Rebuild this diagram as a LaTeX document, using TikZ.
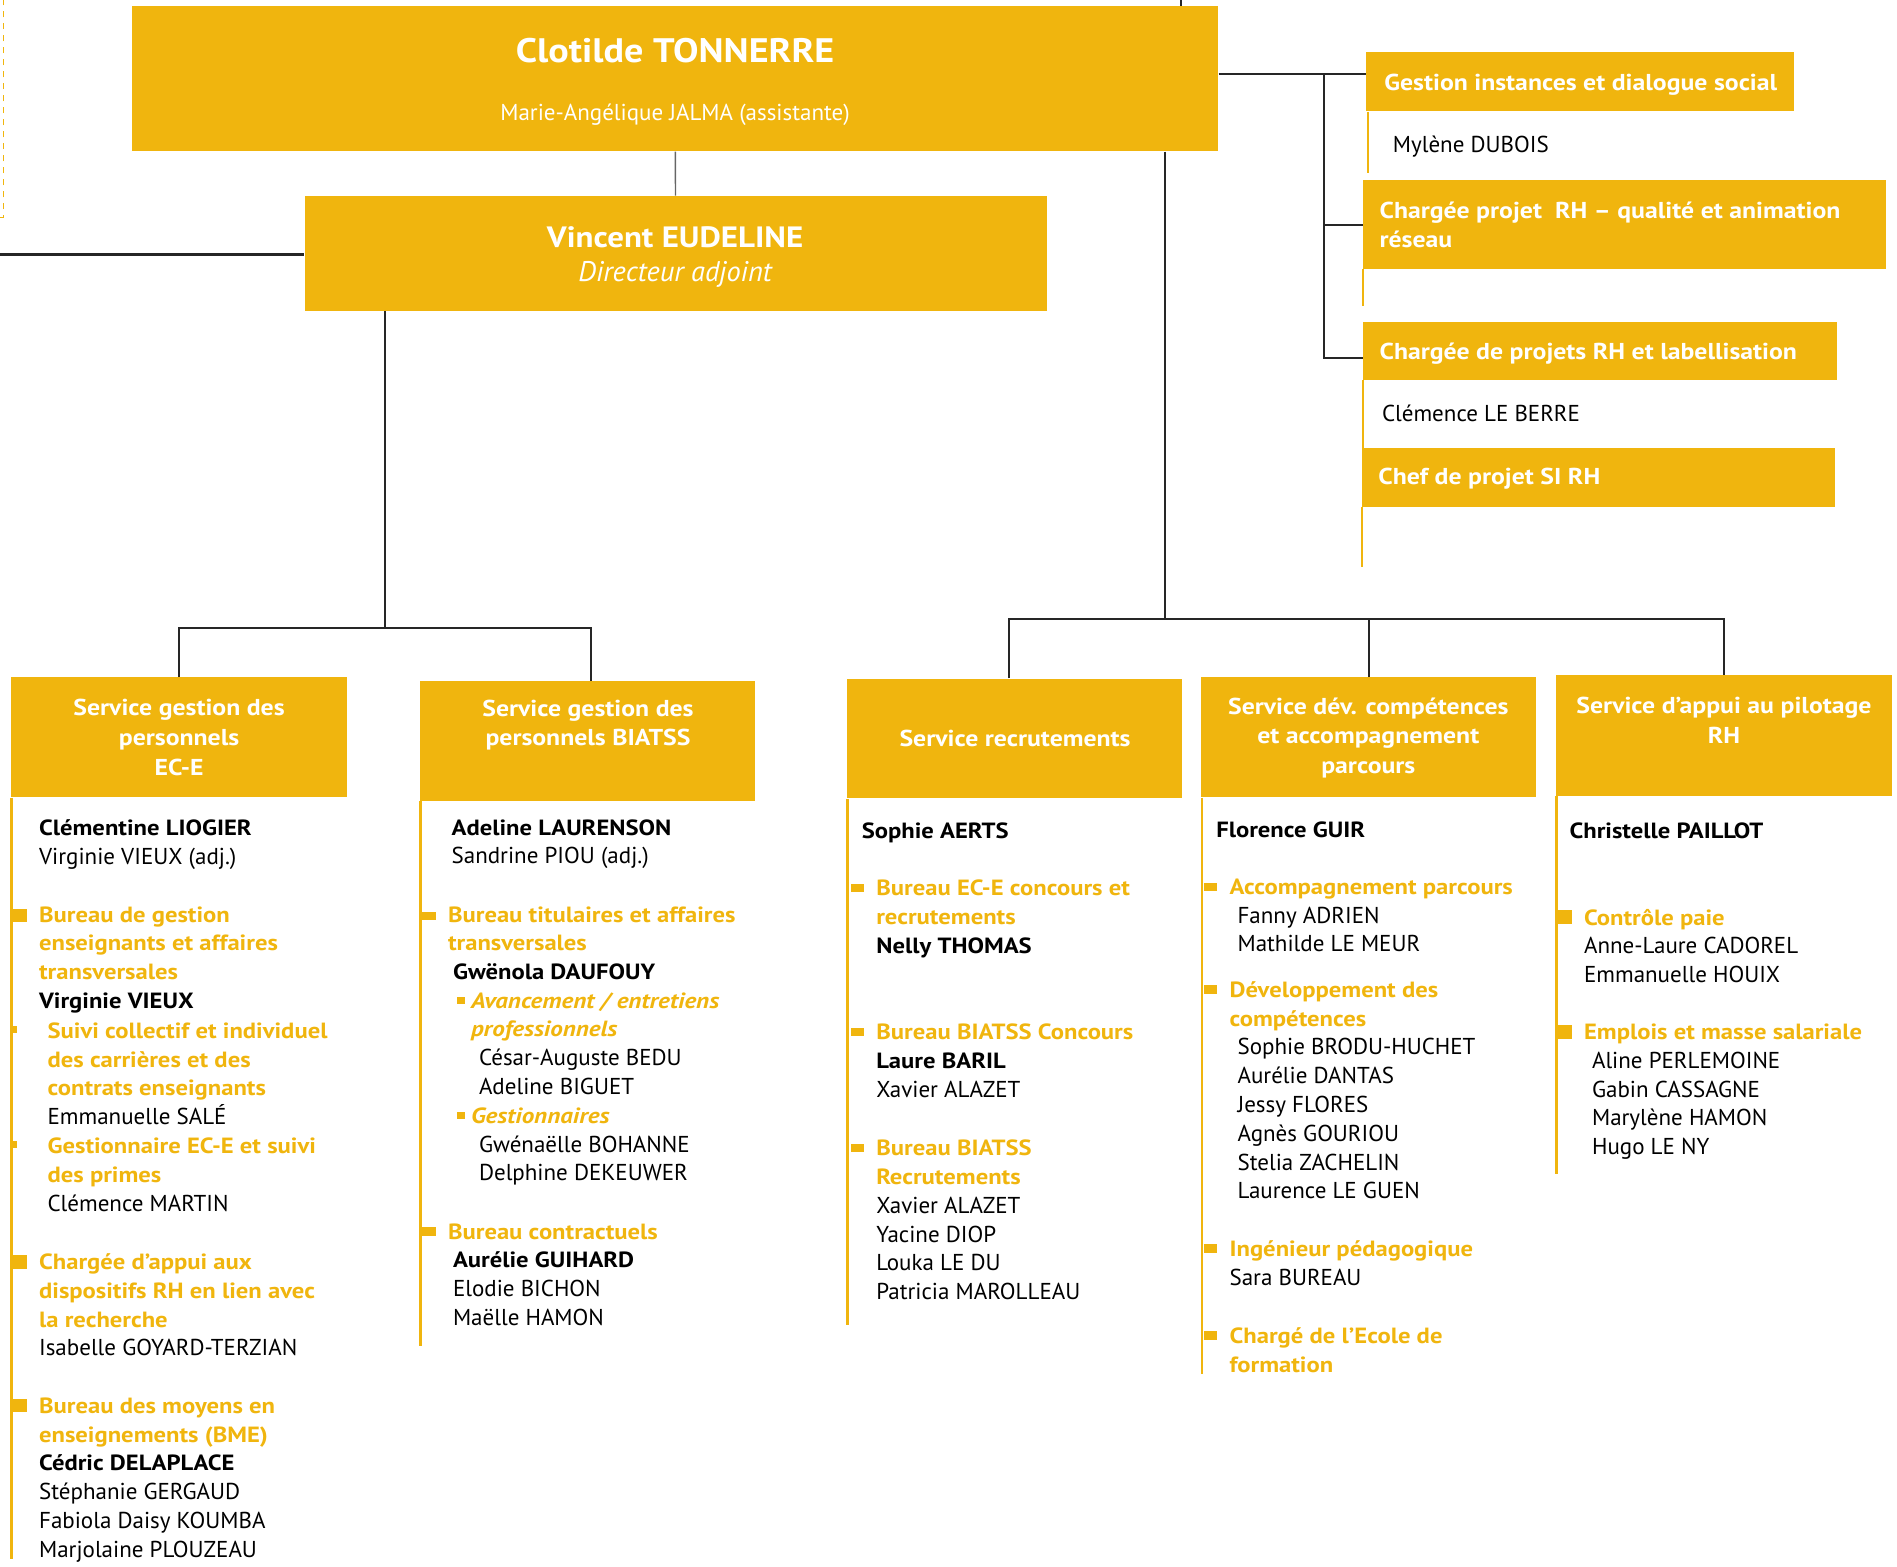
\documentclass[tikz,border=0pt]{standalone}
\usepackage{fontspec}
\setmainfont{PT Sans}[BoldFeatures={FakeStretch=1.12}, BoldItalicFeatures={FakeStretch=1.14}]
\usetikzlibrary{fit}
\definecolor{gold}{RGB}{240,181,14}
\newcommand\hdr[1]{{\color{gold}\bfseries\fontsize{11}{14.4}\selectfont #1}}
\newcommand\subhd[1]{{\color{gold}\bfseries\itshape\fontsize{11}{14.4}\selectfont #1}}
\newcommand\who[1]{{\bfseries\fontsize{11}{14.4}\selectfont #1}}
\newcommand\indt{\hspace*{4pt}}

\begin{document}
\begin{tikzpicture}[x=0.6049pt, y=-0.6049pt,
	box/.style={fill=gold, inner sep=0pt},
	ttl/.style={text=white, font=\bfseries\fontsize{11.5}{14.8}\selectfont, align=center, inner sep=0pt},
	rhd/.style={anchor=west, text=white, font=\bfseries\fontsize{11.5}{14.5}\selectfont, align=left, inner sep=0pt},
	blk1/.style={anchor=north west, inner sep=0pt, align=left, font=\fontsize{11.5}{14.4}\selectfont, execute at begin node=\strut},
	blk/.style={blk1, yshift=-1.8pt},
	ln/.style={draw=black!85, line width=1pt},
	yl/.style={draw=gold, line width=1.2pt}]
	\useasboundingbox (0,0) rectangle (1568,1295);
	% direction
	\node[box, fit={(109,5) (1007,125)}] (dir) {};
	\node[text=white, font=\bfseries\fontsize{17}{20}\selectfont] (dirname) at (558,42) {Clotilde TONNERRE};
	\node[text=white, font=\fontsize{11.5}{14}\selectfont] (dirasst) at (558,95) {Marie-Angélique JALMA (assistante)};
	\node[box, fit={(252,162) (865,257)}] (adj) {};
	\node[text=white, font=\bfseries\fontsize{14.7}{18}\selectfont] (adjname) at (558,196) {Vincent EUDELINE};
	\node[text=white, font=\itshape\fontsize{14.2}{16}\selectfont] (adjrole) at (558,227) {Directeur adjoint};
	\draw[dashed, draw=gold, line width=0.4pt] (0,180) -- (3,180) -- (3,0);
	% right hand missions
	\node[box, fit={(1129,43) (1483,92)}] (gis) {};
	\node[rhd] (gist) at (1144,70) {Gestion instances et dialogue social};
	\node[box, fit={(1127,149) (1559,222)}] (cpr) {};
	\node[rhd] (cprt) at (1140,186) {Chargée projet \ RH – qualité et animation\\réseau};
	\node[box, fit={(1127,266) (1518,314)}] (cpl) {};
	\node[rhd] (cplt) at (1140,292) {Chargée de projets RH et labellisation};
	\node[box, fit={(1126,370) (1517,419)}] (csi) {};
	\node[rhd] (csit) at (1139,396) {Chef de projet SI RH};
	\draw[yl] (gis.south west) ++(2,0) -- ++(0,51);
	\draw[yl] (cpr.south west) -- ++(0,31);
	\draw[yl] (cpl.south west) -- ++(0,61);
	\draw[yl] (csi.south west) -- ++(0,49);
	\node[blk1] (gisn) at (1151,109) {Mylène DUBOIS};
	\node[blk1] (cpln) at (1142,331) {Clémence LE BERRE};
	% services
	\node[box, fit={(9,560) (287,659)}] (ece) {};
	\node[ttl] (ecet) at (148,609.5) {Service gestion des\\personnels\\EC-E};
	\node[box, fit={(347,563) (624,662)}] (bia) {};
	\node[ttl] (biat) at (486,599.5) {Service gestion des\\personnels BIATSS};
	\node[box, fit={(700,561) (977,660)}] (rec) {};
	\node[ttl] (rect) at (839,610) {Service recrutements};
	\node[box, fit={(993,560) (1270,659)}] (dev) {};
	\node[ttl] (devt) at (1131,610) {Service dév. compétences\\et accompagnement\\parcours};
	\node[box, fit={(1286,558) (1564,658)}] (pil) {};
	\node[ttl] (pilt) at (1425,595.5) {Service d’appui au pilotage\\RH};
	\draw[yl] (ece.south west) ++(1,0) -- ++(0,629);
	\draw[yl] (bia.south west) ++(1,0) -- ++(0,450);
	\draw[yl] (rec.south west) ++(1,0) -- ++(0,435);
	\draw[yl] (dev.south west) ++(1,0) -- ++(0,476);
	\draw[yl] (pil.south west) ++(1,0) -- ++(0,312);
	% links
	\coordinate (topin) at (976,0);
	\coordinate (lout) at (0,210);
	\coordinate (lj) at (318,519);
	\coordinate (rj) at (963,512);
	\coordinate (rt) at (1094,61);
	\coordinate (rm) at (1094,186);
	\coordinate (rb) at (1094,296);
	\draw[draw=black!60, line width=0.7pt] (dir) -- (adj);
	\draw[ln] (topin) -- (topin |- dir.north);
	\draw[ln, line width=1.5pt] (lout) -- (lout -| adj.west);
	\draw[ln] (adj.south -| lj) -- (lj);
	\draw[ln] (ece.north) |- (lj) -| ([xshift=2pt]bia.north);
	\draw[ln] (dir.south -| rj) -- (rj);
	\draw[ln] ([xshift=-2.5pt]rec.north) |- (rj) -| (pil.north);
	\draw[ln] (dev.north) -- (dev.north |- rj);
	\draw[ln] (dir.east |- rt) -- (rt -| gis.west);
	\draw[ln] (rt) -- (rb) -- (rb -| cpl.west);
	\draw[ln] (rm) -- (rm -| cpr.west);
	% bullets
	\foreach \x/\y in {11/757, 11/1043, 11/1162, 1288/758, 1288/853}
		\fill[gold] (\x,\y-5.5) rectangle ++(11,11);
	\foreach \x/\y in {349/757, 349/1018, 703/734, 703/853, 703/949, 995/733, 995/818, 995/1032, 995/1104}
		\fill[gold] (\x,\y-3.5) rectangle ++(11,7);
	\foreach \x/\y in {10/851, 10/946}
		\fill[gold] (\x,\y-3) rectangle ++(4,6);
	\foreach \x/\y in {378/827, 378/922}
		\fill[gold] (\x,\y-3) rectangle ++(6,6);
	% EC-E
	\node[blk] (ecea) at (32,674) {\who{Clémentine LIOGIER}\\Virginie VIEUX (adj.)};
	\node[blk] (eceb) at (32,746) {\hdr{Bureau de gestion}\\\hdr{enseignants et affaires}\\\hdr{transversales}\\\who{Virginie VIEUX}};
	\node[blk] (ecec) at (39,842) {\hdr{Suivi collectif et individuel}\\\hdr{des carrières et des}\\\hdr{contrats enseignants}\\Emmanuelle SALÉ\\\hdr{Gestionnaire EC-E et suivi}\\\hdr{des primes}\\Clémence MARTIN};
	\node[blk] (eced) at (32,1033) {\hdr{Chargée d’appui aux}\\\hdr{dispositifs RH en lien avec}\\\hdr{la recherche}\\Isabelle GOYARD-TERZIAN};
	\node[blk] (ecee) at (32,1152) {\hdr{Bureau des moyens en}\\\hdr{enseignements (BME)}\\\who{Cédric DELAPLACE}\\Stéphanie GERGAUD\\Fabiola Daisy KOUMBA\\Marjolaine PLOUZEAU};
	% BIATSS
	\node[blk] (biaa) at (373,674) {\who{Adeline LAURENSON}\\Sandrine PIOU (adj.)};
	\node[blk] (biab) at (370,746) {\hdr{Bureau titulaires et affaires}\\\hdr{transversales}\\\hspace*{2.5pt}\who{Gwënola DAUFOUY}};
	\node[blk] (biac) at (389,817) {\subhd{Avancement / entretiens}\\\subhd{professionnels}\\\indt César-Auguste BEDU\\\indt Adeline BIGUET\\\subhd{Gestionnaires}\\\indt Gwénaëlle BOHANNE\\\indt Delphine DEKEUWER};
	\node[blk] (biad) at (370,1008) {\hdr{Bureau contractuels}\\\hspace*{2.5pt}\who{Aurélie GUIHARD}\\\hspace*{2.5pt}Elodie BICHON\\\hspace*{2.5pt}Maëlle HAMON};
	% recrutements
	\node[blk1] (reca) at (712,676) {\who{Sophie AERTS}};
	\node[blk] (recb) at (724,724) {\hdr{Bureau EC-E concours et}\\\hdr{recrutements}\\\who{Nelly THOMAS}};
	\node[blk] (recc) at (724,843) {\hdr{Bureau BIATSS Concours}\\\who{Laure BARIL}\\Xavier ALAZET};
	\node[blk] (recd) at (724,939) {\hdr{Bureau BIATSS}\\\hdr{Recrutements}\\Xavier ALAZET\\Yacine DIOP\\Louka LE DU\\Patricia MAROLLEAU};
	% competences
	\node[blk1] (deva) at (1005,675) {\who{Florence GUIR}};
	\node[blk] (devb) at (1016,723) {\hdr{Accompagnement parcours}\\\indt Fanny ADRIEN\\\indt Mathilde LE MEUR};
	\node[blk] (devc) at (1016,808) {\hdr{Développement des}\\\hdr{compétences}\\\indt Sophie BRODU-HUCHET\\\indt Aurélie DANTAS\\\indt Jessy FLORES\\\indt Agnès GOURIOU\\\indt Stelia ZACHELIN\\\indt Laurence LE GUEN};
	\node[blk] (devd) at (1016,1022) {\hdr{Ingénieur pédagogique}\\Sara BUREAU};
	\node[blk] (deve) at (1016,1094) {\hdr{Chargé de l’Ecole de}\\\hdr{formation}};
	% pilotage
	\node[blk1] (pila) at (1297,676) {\who{Christelle PAILLOT}};
	\node[blk] (pilb) at (1309,748) {\hdr{Contrôle paie}\\Anne-Laure CADOREL\\Emmanuelle HOUIX};
	\node[blk] (pilc) at (1309,843) {\hdr{Emplois et masse salariale}\\\indt Aline PERLEMOINE\\\indt Gabin CASSAGNE\\\indt Marylène HAMON\\\indt Hugo LE NY};
\end{tikzpicture}
\end{document}
